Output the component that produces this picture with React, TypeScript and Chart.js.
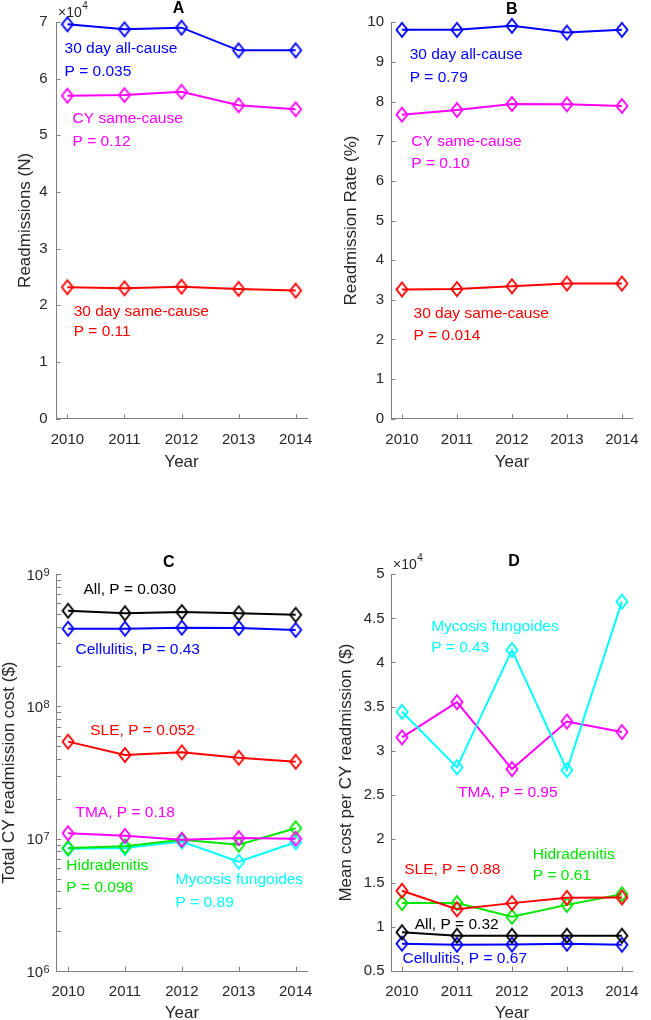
import React, { useEffect, useRef } from "react";
import { Chart, registerables } from "chart.js";

Chart.register(...registerables);

const FONT = '"Liberation Sans", Arial, Helvetica, sans-serif';
const AXIS_GRAY = "#808080";
const TICK_TEXT = "#262626";
const BLUE = "#0000ff";
const MAGENTA = "#ff00ff";
const RED = "#ff0000";
const BLACK = "#000000";
const GREEN = "#00e600";
const CYAN = "#00ffff";

// ---------- data ----------
const YEARS = [2010, 2011, 2012, 2013, 2014];

// Panel A: readmissions (N)
const readmitAll30 = [69600, 68700, 69000, 65000, 65000];
const readmitCYSame = [57000, 57100, 57700, 55300, 54600];
const readmitSame30 = [23200, 23000, 23300, 22900, 22600];
const TICKS_A = [0, 1, 2, 3, 4, 5, 6, 7];

// Panel B: readmission rate (%)
const rateAll30 = [9.81, 9.81, 9.91, 9.74, 9.81];
const rateCYSame = [7.67, 7.79, 7.94, 7.93, 7.89];
const rateSame30 = [3.26, 3.27, 3.34, 3.41, 3.41];
const TICKS_B = [0, 1, 2, 3, 4, 5, 6, 7, 8, 9, 10];

// Panel C: total CY readmission cost ($)
const totalAll = [5.28e8, 5.05e8, 5.16e8, 5.05e8, 4.92e8];
const totalCellulitis = [3.86e8, 3.86e8, 3.93e8, 3.91e8, 3.78e8];
const totalSLE = [5.41e7, 4.29e7, 4.49e7, 4.09e7, 3.81e7];
const totalTMA = [1.1e7, 1.05e7, 9.8e6, 1.01e7, 1.0e7];
const totalHidradenitis = [8.5e6, 8.75e6, 9.8e6, 9.0e6, 1.2e7];
const totalMycosis = [8.4e6, 8.5e6, 9.5e6, 6.7e6, 9.4e6];
const TICKS_C_MAJOR = [1e6, 1e7, 1e8, 1e9];

// Panel D: mean cost per CY readmission ($)
const meanMycosis = [34400, 28100, 41400, 27800, 46900];
const meanTMA = [31500, 35500, 27900, 33300, 32100];
const meanSLE = [14100, 12000, 12700, 13300, 13350];
const meanHidradenitis = [12700, 12700, 11150, 12500, 13700];
const meanAll = [9400, 9000, 9000, 9000, 9000];
const meanCellulitis = [8100, 7980, 8000, 8100, 7980];
const TICKS_D = [0.5, 1, 1.5, 2, 2.5, 3, 3.5, 4, 4.5, 5];

// ---------- panel specs ----------
type Rect = { left: number; top: number; width: number; height: number };
type Area = { left: number; top: number; right: number; bottom: number };
type Note = { text: string; x: number; y: number; color: string };
type Series = { values: number[]; color: string };
type Panel = {
  key: string;
  canvas: Rect;
  area: Area;
  log: boolean;
  yMin: number;
  yMax: number;
  yTicks: number[];
  yDiv: number;
  yTickPad: number;
  yTitle: string;
  yTitlePad: number;
  xTitlePad: number;
  title: string;
  titleAt: { x: number; y: number };
  exponent: string | null;
  series: Series[];
  notes: Note[];
};

const logTicks = (majors: number[]) => {
  const out: number[] = [];
  for (let i = 0; i < majors.length - 1; i++) {
    for (let m = 1; m <= 9; m++) out.push(majors[i] * m);
  }
  out.push(majors[majors.length - 1]);
  return out;
};

const PANELS: Panel[] = [
  {
    key: "A",
    canvas: { left: 0, top: 0, width: 325, height: 490 },
    area: { left: 56, top: 22, right: 310.7, bottom: 418.7 },
    log: false,
    yMin: 0,
    yMax: 7,
    yTicks: TICKS_A,
    yDiv: 1e4,
    yTickPad: 8.5,
    yTitle: "Readmissions (N)",
    yTitlePad: 17,
    xTitlePad: 18.7,
    title: "A",
    titleAt: { x: 178.5, y: 9 },
    exponent: "4",
    series: [
      { values: readmitAll30, color: BLUE },
      { values: readmitCYSame, color: MAGENTA },
      { values: readmitSame30, color: RED },
    ],
    notes: [
      { text: "30 day all-cause", x: 2009.95, y: 6.52, color: BLUE },
      { text: "P = 0.035", x: 2009.95, y: 6.13, color: BLUE },
      { text: "CY same-cause", x: 2010.09, y: 5.29, color: MAGENTA },
      { text: "P = 0.12", x: 2010.09, y: 4.89, color: MAGENTA },
      { text: "30 day same-cause", x: 2010.11, y: 1.89, color: RED },
      { text: "P = 0.11", x: 2010.11, y: 1.53, color: RED },
    ],
  },
  {
    key: "B",
    canvas: { left: 325, top: 0, width: 326, height: 490 },
    area: { left: 66, top: 22.3, right: 321, bottom: 418.7 },
    log: false,
    yMin: 0,
    yMax: 10,
    yTicks: TICKS_B,
    yDiv: 1,
    yTickPad: 7,
    yTitle: "Readmission Rate (%)",
    yTitlePad: 17.5,
    xTitlePad: 18.7,
    title: "B",
    titleAt: { x: 511.7, y: 9.5 },
    exponent: null,
    series: [
      { values: rateAll30, color: BLUE },
      { values: rateCYSame, color: MAGENTA },
      { values: rateSame30, color: RED },
    ],
    notes: [
      { text: "30 day all-cause", x: 2010.14, y: 9.18, color: BLUE },
      { text: "P = 0.79", x: 2010.14, y: 8.61, color: BLUE },
      { text: "CY same-cause", x: 2010.17, y: 7.0, color: MAGENTA },
      { text: "P = 0.10", x: 2010.17, y: 6.44, color: MAGENTA },
      { text: "30 day same-cause", x: 2010.21, y: 2.66, color: RED },
      { text: "P = 0.014", x: 2010.21, y: 2.09, color: RED },
    ],
  },
  {
    key: "C",
    canvas: { left: 0, top: 520, width: 325, height: 500 },
    area: { left: 56.7, top: 54, right: 310.7, bottom: 451 },
    log: true,
    yMin: 1e6,
    yMax: 1e9,
    yTicks: logTicks(TICKS_C_MAJOR),
    yDiv: 1,
    yTickPad: 7,
    yTitle: "Total CY readmission cost ($)",
    yTitlePad: 1,
    xTitlePad: -2,
    title: "C",
    titleAt: { x: 168.8, y: 562.5 },
    exponent: null,
    series: [
      { values: totalAll, color: BLACK },
      { values: totalCellulitis, color: BLUE },
      { values: totalSLE, color: RED },
      { values: totalTMA, color: MAGENTA },
      { values: totalHidradenitis, color: GREEN },
      { values: totalMycosis, color: CYAN },
    ],
    notes: [
      { text: "All, P = 0.030", x: 2010.27, y: 7.57e8, color: BLACK },
      { text: "Cellulitis, P = 0.43", x: 2010.13, y: 2.67e8, color: BLUE },
      { text: "SLE, P = 0.052", x: 2010.39, y: 6.54e7, color: RED },
      { text: "TMA, P = 0.18", x: 2010.13, y: 1.58e7, color: MAGENTA },
      { text: "Hidradenitis", x: 2009.97, y: 6.21e6, color: GREEN },
      { text: "P = 0.098", x: 2009.97, y: 4.28e6, color: GREEN },
      { text: "Mycosis fungoides", x: 2011.89, y: 4.86e6, color: CYAN },
      { text: "P = 0.89", x: 2011.89, y: 3.3e6, color: CYAN },
    ],
  },
  {
    key: "D",
    canvas: { left: 325, top: 520, width: 326, height: 500 },
    area: { left: 66, top: 54.3, right: 321, bottom: 451 },
    log: false,
    yMin: 0.5,
    yMax: 5,
    yTicks: TICKS_D,
    yDiv: 1e4,
    yTickPad: 6.5,
    yTitle: "Mean cost per CY readmission ($)",
    yTitlePad: 12.5,
    xTitlePad: -2,
    title: "D",
    titleAt: { x: 514, y: 561.7 },
    exponent: "4",
    series: [
      { values: meanMycosis, color: CYAN },
      { values: meanTMA, color: MAGENTA },
      { values: meanSLE, color: RED },
      { values: meanHidradenitis, color: GREEN },
      { values: meanAll, color: BLACK },
      { values: meanCellulitis, color: BLUE },
    ],
    notes: [
      { text: "Mycosis fungoides", x: 2010.53, y: 4.41, color: CYAN },
      { text: "P = 0.43", x: 2010.53, y: 4.17, color: CYAN },
      { text: "TMA, P = 0.95", x: 2011.02, y: 2.52, color: MAGENTA },
      { text: "Hidradenitis", x: 2012.38, y: 1.82, color: GREEN },
      { text: "P = 0.61", x: 2012.38, y: 1.58, color: GREEN },
      { text: "SLE, P = 0.88", x: 2010.04, y: 1.65, color: RED },
      { text: "All, P = 0.32", x: 2010.23, y: 1.03, color: BLACK },
      { text: "Cellulitis, P = 0.67", x: 2010.01, y: 0.64, color: BLUE },
    ],
  },
];

// ---------- helpers ----------
const diamondCache: Record<string, HTMLCanvasElement> = {};
function diamond(color: string): HTMLCanvasElement {
  if (diamondCache[color]) return diamondCache[color];
  const c = document.createElement("canvas");
  c.width = 16;
  c.height = 20;
  const g = c.getContext("2d")!;
  g.strokeStyle = color;
  g.lineWidth = 1.9;
  g.lineJoin = "miter";
  g.beginPath();
  g.moveTo(8, 3);
  g.lineTo(13.5, 10);
  g.lineTo(8, 17);
  g.lineTo(2.5, 10);
  g.closePath();
  g.stroke();
  diamondCache[color] = c;
  return c;
}

function makeDecor(p: Panel) {
  return {
    id: "decor" + p.key,
    afterDraw(chart: any) {
      const ctx: CanvasRenderingContext2D = chart.ctx;
      const xs = chart.scales.x;
      const ys = chart.scales.y;
      const a = chart.chartArea;
      ctx.save();
      // inward tick marks
      ctx.strokeStyle = AXIS_GRAY;
      ctx.lineWidth = 1;
      ctx.beginPath();
      xs.ticks.forEach((t: any) => {
        const px = Math.round(xs.getPixelForValue(t.value)) + 0.5;
        ctx.moveTo(px, a.bottom);
        ctx.lineTo(px, a.bottom - 4.5);
      });
      ys.ticks.forEach((t: any) => {
        const py = Math.round(ys.getPixelForValue(t.value)) + 0.5;
        ctx.moveTo(a.left, py);
        ctx.lineTo(a.left + 4.5, py);
      });
      ctx.stroke();

      // log tick labels with superscript exponents
      if (p.log) {
        ctx.fillStyle = TICK_TEXT;
        TICKS_C_MAJOR.forEach((v) => {
          const py = ys.getPixelForValue(v);
          const exp = String(Math.round(Math.log10(v)));
          ctx.font = `11px ${FONT}`;
          ctx.textAlign = "right";
          ctx.textBaseline = "alphabetic";
          const ex = a.left - p.yTickPad;
          ctx.fillText(exp, ex, py + 1.5);
          const ew = ctx.measureText(exp).width;
          ctx.font = `15px ${FONT}`;
          ctx.textBaseline = "middle";
          ctx.fillText("10", ex - ew - 0.5, py + 1.5);
        });
      }

      // x10^n multiplier
      if (p.exponent) {
        ctx.fillStyle = TICK_TEXT;
        ctx.textAlign = "left";
        ctx.textBaseline = "alphabetic";
        ctx.font = `14px ${FONT}`;
        const base = "\u00d710";
        ctx.fillText(base, a.left + 2, a.top - 5.5);
        const bw = ctx.measureText(base).width;
        ctx.font = `10px ${FONT}`;
        ctx.fillText(p.exponent, a.left + 2 + bw + 0.5, a.top - 13);
      }

      // panel title
      ctx.fillStyle = "#000000";
      ctx.font = `bold 16px ${FONT}`;
      ctx.textAlign = "center";
      ctx.textBaseline = "middle";
      ctx.fillText(p.title, p.titleAt.x - p.canvas.left, p.titleAt.y - p.canvas.top);

      // annotations
      ctx.font = `15.5px ${FONT}`;
      ctx.textAlign = "left";
      ctx.textBaseline = "middle";
      p.notes.forEach((n) => {
        ctx.fillStyle = n.color;
        ctx.fillText(n.text, xs.getPixelForValue(n.x), ys.getPixelForValue(n.y));
      });
      ctx.restore();
    },
  };
}

function PanelChart({ p }: { p: Panel }) {
  const ref = useRef<HTMLCanvasElement | null>(null);
  useEffect(() => {
    if (!ref.current) return;
    const xAxisHeight = p.canvas.height - p.area.bottom;
    const chart = new Chart(ref.current, {
      type: "line",
      data: {
        datasets: p.series.map((s) => ({
          data: YEARS.map((yr, i) => ({ x: yr, y: s.values[i] / p.yDiv })),
          borderColor: s.color,
          backgroundColor: "rgba(0,0,0,0)",
          borderWidth: 2,
          pointStyle: diamond(s.color) as any,
          pointRadius: 7,
          pointHoverRadius: 7,
          tension: 0,
          fill: false,
          clip: false as any,
        })),
      },
      options: {
        responsive: false,
        animation: false,
        events: [],
        layout: {
          padding: {
            left: 0,
            top: p.area.top,
            right: p.canvas.width - p.area.right,
            bottom: 0,
          },
        },
        plugins: {
          legend: { display: false },
          tooltip: { enabled: false },
          title: { display: false },
        },
        scales: {
          x: {
            type: "linear",
            position: "bottom",
            min: 2009.8,
            max: 2014.2,
            afterBuildTicks: (s: any) => {
              s.ticks = YEARS.map((v) => ({ value: v }));
            },
            afterFit: (s: any) => {
              s.height = xAxisHeight;
            },
            grid: { display: false, drawTicks: false },
            border: { display: true, color: AXIS_GRAY, width: 1 },
            ticks: {
              autoSkip: false,
              maxRotation: 0,
              padding: 12,
              color: TICK_TEXT,
              font: { family: FONT, size: 15 },
              callback: (v: any) => String(v),
            },
            title: {
              display: true,
              text: "Year",
              color: TICK_TEXT,
              font: { family: FONT, size: 17, lineHeight: 1 },
              padding: { top: 0, bottom: p.xTitlePad },
            },
          },
          y: {
            type: p.log ? "logarithmic" : "linear",
            position: "left",
            min: p.yMin,
            max: p.yMax,
            afterBuildTicks: (s: any) => {
              s.ticks = p.yTicks.map((v) => ({ value: v }));
            },
            afterFit: (s: any) => {
              s.width = p.area.left;
            },
            grid: { display: false, drawTicks: false },
            border: { display: true, color: AXIS_GRAY, width: 1 },
            ticks: {
              display: !p.log,
              autoSkip: false,
              padding: p.yTickPad,
              color: TICK_TEXT,
              font: { family: FONT, size: 15 },
              callback: (v: any) => String(v),
            },
            title: {
              display: true,
              text: p.yTitle,
              color: TICK_TEXT,
              font: { family: FONT, size: 17, lineHeight: 1 },
              padding: { top: p.yTitlePad, bottom: 0 },
            },
          },
        },
      } as any,
      plugins: [makeDecor(p)],
    });
    return () => chart.destroy();
  }, [p]);
  return (
    <canvas
      ref={ref}
      width={p.canvas.width}
      height={p.canvas.height}
      style={{
        position: "absolute",
        left: p.canvas.left,
        top: p.canvas.top,
        width: p.canvas.width,
        height: p.canvas.height,
      }}
    />
  );
}

export default function App() {
  return (
    <div
      style={{
        position: "absolute",
        left: 0,
        top: 0,
        width: 651,
        height: 1020,
        background: "#ffffff",
        overflow: "hidden",
      }}
    >
      {PANELS.map((p) => (
        <PanelChart key={p.key} p={p} />
      ))}
    </div>
  );
}
